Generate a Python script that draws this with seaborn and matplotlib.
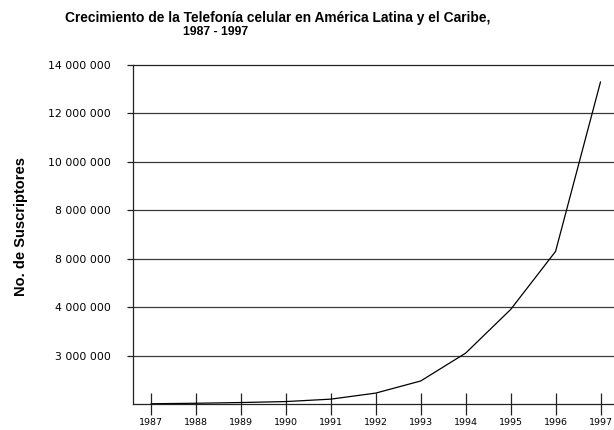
import matplotlib
matplotlib.use("Agg")
import matplotlib.pyplot as plt
import seaborn as sns
import pandas as pd

# Suscriptores de telefonia celular (estimados leyendo la grafica)
years = [1987, 1988, 1989, 1990, 1991, 1992, 1993, 1994, 1995, 1996, 1997]
subscribers = [10000, 30000, 60000, 100000, 200000, 450000, 950000,
               2100000, 3900000, 6300000, 13300000]

y_ticks = [2000000, 4000000, 6000000, 8000000, 10000000, 12000000, 14000000]
y_tick_labels = ["3 000 000", "4 000 000", "8 000 000", "8 000 000",
                 "10 000 000", "12 000 000", "14 000 000"]

title = "Crecimiento de la Telefonía celular en América Latina y el Caribe,"
subtitle = "1987 - 1997"
y_label = "No. de Suscriptores"

sns.set_style("white")
plt.rcParams["font.family"] = ["Liberation Sans", "DejaVu Sans"]
plt.rcParams["text.color"] = "black"
plt.rcParams["xtick.color"] = "black"
plt.rcParams["ytick.color"] = "black"

data = pd.DataFrame({"Año": years, "Suscriptores": subscribers})

fig = plt.figure(figsize=(6.14, 4.3), dpi=100)
ax = fig.add_axes([0.2166, 0.0605, 0.7834, 0.7885])

sns.lineplot(data=data, x="Año", y="Suscriptores", color="black",
             linewidth=0.9, ax=ax)

ax.set_xlim(1986.6, 1997.3)
ax.set_ylim(0, 14000000)

ax.set_yticks(y_ticks)
ax.set_yticklabels(y_tick_labels, fontsize=7.8, family="DejaVu Sans")
ax.set_xticks(years)
ax.set_xticklabels([str(y) for y in years], fontsize=6.8,
                   family="DejaVu Sans")

ax.tick_params(axis="x", bottom=True, direction="inout", length=16,
               width=0.9, color="#222222", pad=2)
ax.tick_params(axis="y", left=True, direction="out", length=4, width=0.9,
               color="#222222", pad=12)

for yv in y_ticks[:-1]:
    ax.axhline(yv, color="#3a3a3a", linewidth=0.9, zorder=0)

ax.spines["right"].set_visible(False)
for side in ["left", "bottom", "top"]:
    ax.spines[side].set_color("#222222")
    ax.spines[side].set_linewidth(0.9)

ax.set_xlabel("")
ax.set_ylabel("")

fig.text(0.106, 1 - 18 / 430, title, fontsize=9.9, fontweight="bold",
         ha="left", va="center")
fig.text(0.298, 1 - 32 / 430, subtitle, fontsize=8.8, fontweight="bold",
         ha="left", va="center")
fig.text(0.035, 1 - 227 / 430, y_label, fontsize=10.5, fontweight="bold",
         rotation=90, ha="center", va="center")

plt.savefig("out.png", dpi=100)
